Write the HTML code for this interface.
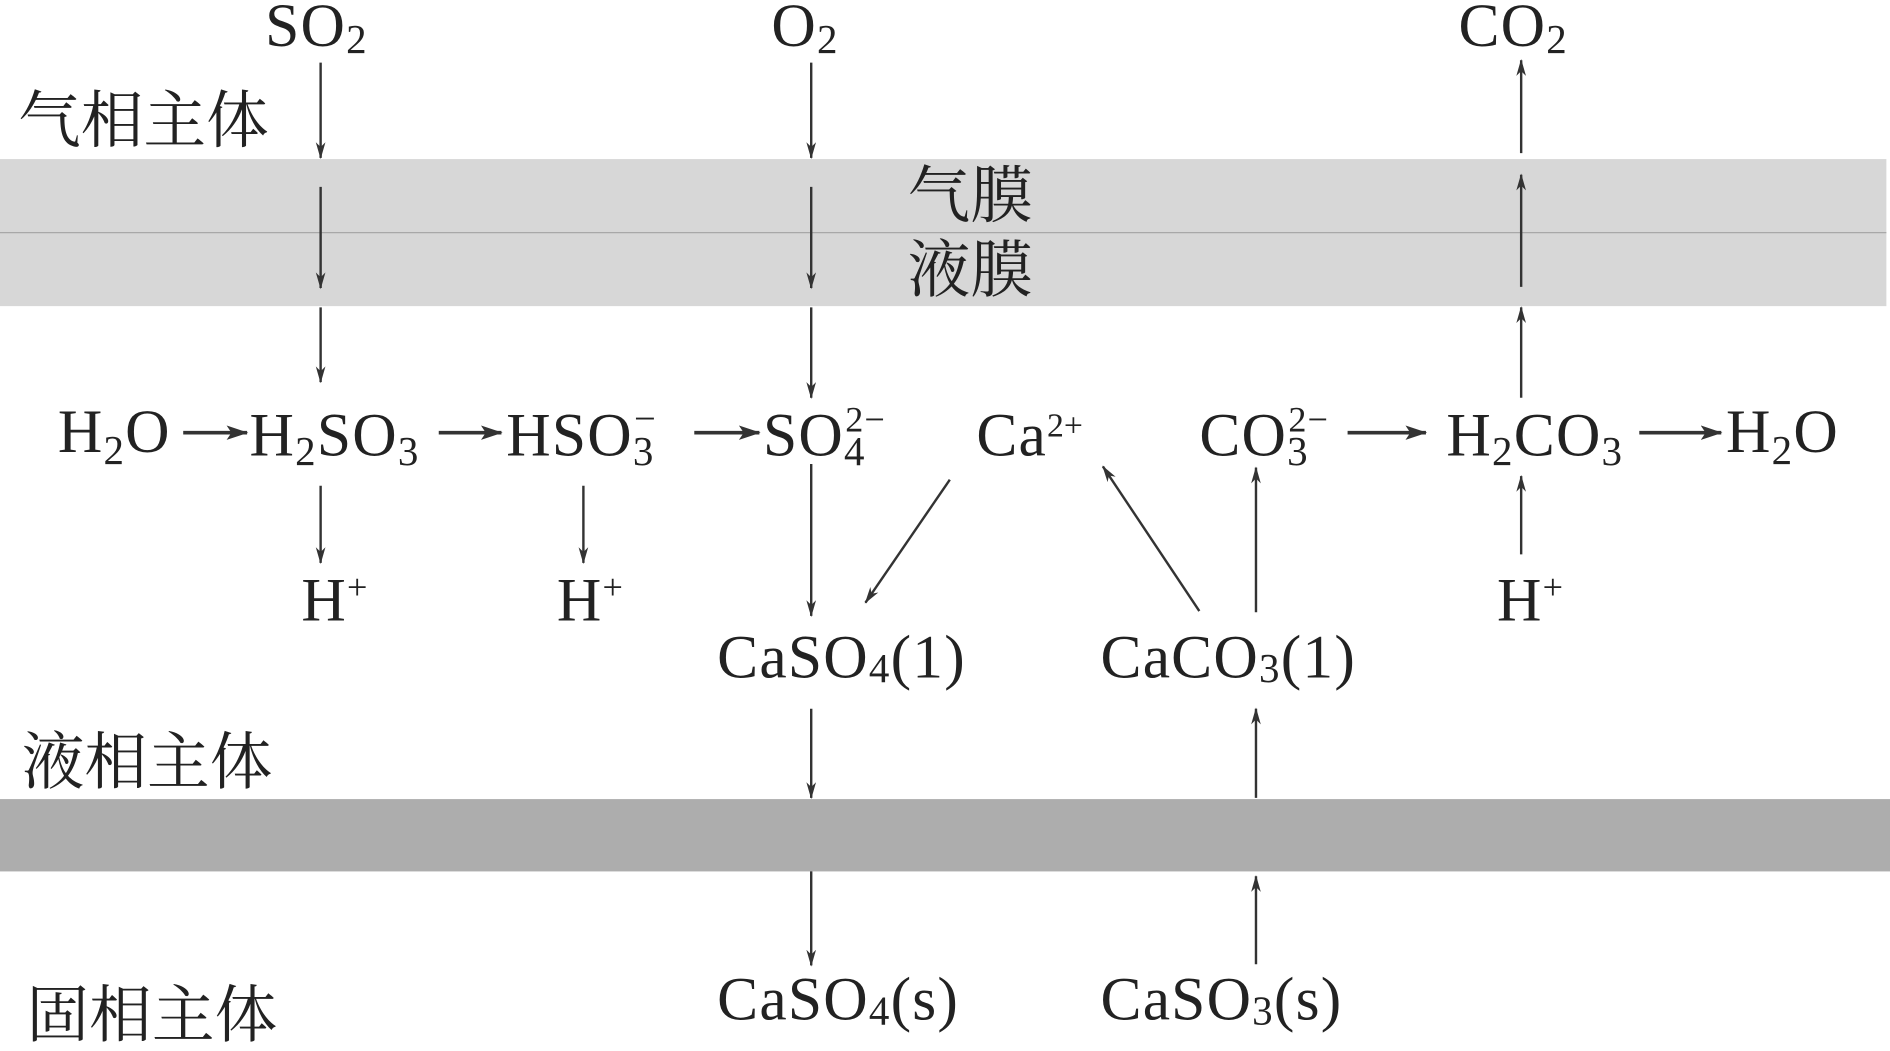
<!DOCTYPE html>
<html><head><meta charset="utf-8"><style>
html,body{margin:0;padding:0;background:#fff;}
svg{display:block;}
text{font-family:"Liberation Serif","Noto Serif CJK SC",serif;fill:#222;}
.f{letter-spacing:1px;}
.c{font-family:"Noto Serif CJK SC","Noto Sans CJK SC",serif;}
</style></head><body>
<svg width="1890" height="1051" viewBox="0 0 1568 872" preserveAspectRatio="none" xmlns="http://www.w3.org/2000/svg">
<defs>
<marker id="a" markerWidth="14" markerHeight="10" refX="13" refY="5" orient="auto" markerUnits="userSpaceOnUse">
<path d="M0,1 L14,5 L0,9 L4,5 Z" fill="#333"/>
</marker>
<marker id="b" markerWidth="18" markerHeight="12" refX="17" refY="6" orient="auto" markerUnits="userSpaceOnUse">
<path d="M0,0 L18,6 L0,12 L4,6 Z" fill="#333"/>
</marker>
</defs>
<rect x="0" y="132" width="1565" height="122" fill="#d7d7d7"/>
<line x1="0" y1="193" x2="1565" y2="193" stroke="#a8a8a8" stroke-width="1"/>
<rect x="0" y="663" width="1568" height="60" fill="#adadad"/>

<g font-size="51">
<text class="f" x="220" y="38">SO<tspan font-size="34" dy="6">2</tspan></text>
<text class="f" x="640" y="38">O<tspan font-size="34" dy="6">2</tspan></text>
<text class="f" x="1210" y="38">CO<tspan font-size="34" dy="6">2</tspan></text>

<text class="f" x="48" y="375">H<tspan font-size="34" dy="10">2</tspan><tspan dy="-10">O</tspan></text>
<text class="f" x="207" y="378">H<tspan font-size="34" dy="8">2</tspan><tspan dy="-8">SO</tspan><tspan font-size="34" dy="8">3</tspan></text>
<text class="f" x="420" y="378">HSO<tspan font-size="34" dy="8">3</tspan><tspan font-size="32" dx="-17" dy="-28">−</tspan></text>
<text class="f" x="633" y="378">SO<tspan font-size="34" dy="8">4</tspan><tspan font-size="30" dx="-17" dy="-28">2−</tspan></text>
<text class="f" x="810" y="378">Ca<tspan font-size="28" dy="-16" letter-spacing="0">2+</tspan></text>
<text class="f" x="995" y="378">CO<tspan font-size="34" dy="8">3</tspan><tspan font-size="30" dx="-17" dy="-28">2−</tspan></text>
<text class="f" x="1200" y="378">H<tspan font-size="34" dy="8">2</tspan><tspan dy="-8">CO</tspan><tspan font-size="34" dy="8">3</tspan></text>
<text class="f" x="1432" y="375">H<tspan font-size="34" dy="10">2</tspan><tspan dy="-10">O</tspan></text>

<text class="f" x="250" y="515">H<tspan font-size="30" dy="-18">+</tspan></text>
<text class="f" x="462" y="515">H<tspan font-size="30" dy="-18">+</tspan></text>
<text class="f" x="1242" y="515">H<tspan font-size="30" dy="-18">+</tspan></text>

<text class="f" x="595" y="562">CaSO<tspan font-size="34" dy="4">4</tspan><tspan dy="-4">(1)</tspan></text>
<text class="f" x="913" y="562">CaCO<tspan font-size="34" dy="4">3</tspan><tspan dy="-4">(1)</tspan></text>
<text class="f" x="595" y="846">CaSO<tspan font-size="34" dy="4">4</tspan><tspan dy="-4">(s)</tspan></text>
<text class="f" x="913" y="846">CaSO<tspan font-size="34" dy="4">3</tspan><tspan dy="-4">(s)</tspan></text>
</g>
<g font-size="52">
<text class="c" x="15" y="118">气相主体</text>
<text class="c" x="18" y="650">液相主体</text>
<text class="c" x="22" y="860">固相主体</text>
<text class="c" x="753" y="180">气膜</text>
<text class="c" x="753" y="242">液膜</text>
</g>

<g stroke="#333" stroke-width="2" fill="none" marker-end="url(#a)">
<line x1="266" y1="52" x2="266" y2="131"/>
<line x1="266" y1="155" x2="266" y2="239"/>
<line x1="266" y1="255" x2="266" y2="317"/>
<line x1="266" y1="403" x2="266" y2="467"/>
<line x1="484" y1="403" x2="484" y2="467"/>
<line x1="673" y1="52" x2="673" y2="131"/>
<line x1="673" y1="155" x2="673" y2="239"/>
<line x1="673" y1="255" x2="673" y2="330"/>
<line x1="673" y1="385" x2="673" y2="511"/>
<line x1="673" y1="588" x2="673" y2="662"/>
<line x1="673" y1="723" x2="673" y2="801"/>
<line x1="1262" y1="127" x2="1262" y2="50"/>
<line x1="1262" y1="238" x2="1262" y2="145"/>
<line x1="1262" y1="330" x2="1262" y2="255"/>
<line x1="1262" y1="460" x2="1262" y2="395"/>
<line x1="1042" y1="508" x2="1042" y2="388"/>
<line x1="1042" y1="662" x2="1042" y2="588"/>
<line x1="1042" y1="800" x2="1042" y2="727"/>
<line x1="788" y1="398" x2="718" y2="500"/>
<line x1="995" y1="507" x2="915" y2="387"/>
</g>
<g stroke="#333" stroke-width="3" fill="none" marker-end="url(#b)">
<line x1="152" y1="359" x2="205" y2="359"/>
<line x1="364" y1="359" x2="416" y2="359"/>
<line x1="576" y1="359" x2="630" y2="359"/>
<line x1="1118" y1="359" x2="1183" y2="359"/>
<line x1="1360" y1="359" x2="1428" y2="359"/>
</g>
</svg>
</body></html>
